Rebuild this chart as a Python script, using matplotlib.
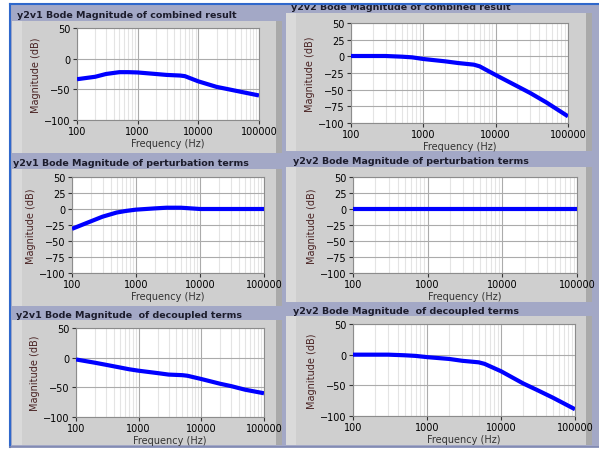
import numpy as np
import matplotlib.pyplot as plt
from matplotlib.patches import Rectangle
from matplotlib.ticker import FixedLocator, NullFormatter

W, H = 599, 452

# frequency grid (Hz) shared by all traces
freq = [100, 200, 300, 500, 700, 1000, 2000, 3000, 5000, 6000,
        10000, 20000, 30000, 50000, 100000]

# magnitudes (dB)
y2v1_combined = [-33.5, -29.5, -25, -22, -22, -22.5, -25, -26.5, -27.5, -28.5,
                 -37, -46, -49.5, -54, -60]
y2v2_combined = [0.5, 0.5, 0.5, -0.5, -1.5, -4, -7.5, -10, -12.5, -15,
                 -28, -45, -55, -69, -90]
y2v1_perturb = [-31, -19, -12, -5.5, -3, -1, 1, 2, 2, 1.5,
                0, 0, 0, 0, 0]
y2v2_perturb = [0, 0, 0, 0, 0, 0, 0, 0, 0, 0, 0, 0, 0, 0, 0]
y2v1_decoupled = [-3, -8.5, -12, -16.5, -19.5, -22, -26, -28.5, -29.5, -30.5,
                  -36, -44, -48, -54, -60]
y2v2_decoupled = [0, 0, 0, -1, -2, -4, -7, -10, -12.5, -15,
                  -27, -47, -57, -70, -89]

titles = [
    "y2v1 Bode Magnitude of combined result",
    "y2v2 Bode Magnitude of combined result",
    "y2v1 Bode Magnitude of perturbation terms",
    "y2v2 Bode Magnitude of perturbation terms",
    "y2v1 Bode Magnitude  of decoupled terms",
    "y2v2 Bode Magnitude  of decoupled terms",
]
series = [y2v1_combined, y2v2_combined, y2v1_perturb,
          y2v2_perturb, y2v1_decoupled, y2v2_decoupled]
yticks_list = [
    [50, 0, -50, -100],
    [50, 25, 0, -25, -50, -75, -100],
    [50, 25, 0, -25, -50, -75, -100],
    [50, 25, 0, -25, -50, -75, -100],
    [50, 0, -50, -100],
    [50, 0, -50, -100],
]
xticks = [100, 1000, 10000, 100000]

# pixel boxes (left, top, right, bottom)
plot_boxes = [(77, 29, 259, 121), (351, 24, 568, 124),
              (72, 178, 264, 274), (353, 178, 577, 274),
              (76, 329, 264, 418), (353, 325, 575, 417)]
panel_boxes = [(12, 22, 282, 154), (286, 14, 592, 152),
               (12, 170, 282, 307), (286, 168, 592, 303),
               (12, 321, 282, 446), (286, 317, 592, 446)]
title_pos = [(17, 15), (291, 7), (13, 163), (293, 162), (16, 315), (293, 311)]


def fig_rect(l, t, r, b):
    return [l / W, 1 - b / H, (r - l) / W, (b - t) / H]


def add_box(fig, l, t, r, b, color, z=-2):
    fig.add_artist(Rectangle((l / W, 1 - b / H), (r - l) / W, (b - t) / H,
                             transform=fig.transFigure, facecolor=color,
                             edgecolor='none', zorder=z))


fig = plt.figure(figsize=(W / 100, H / 100), dpi=100)
fig.patch.set_facecolor('white')

# bluish background behind the panels
add_box(fig, 10, 5, 599, 448, '#a3a8c6', z=-5)
for (l, t, r, b) in panel_boxes:
    add_box(fig, l, t, r, b, '#cfcfcf', z=-4)
    add_box(fig, l, t, l + 10, b, '#dadada', z=-3)
    add_box(fig, r - 6, t, r, b, '#a9a9a9', z=-3)

for i in range(6):
    ax = fig.add_axes(fig_rect(*plot_boxes[i]))
    ax.set_facecolor('white')
    ax.plot(freq, series[i], color='#0000ff', lw=3, solid_capstyle='butt', zorder=3)
    ax.set_xscale('log')
    ax.set_xlim(100, 100000)
    ax.set_ylim(-100, 50)
    ax.xaxis.set_major_locator(FixedLocator(xticks))
    ax.xaxis.set_minor_locator(FixedLocator(
        [m * d for d in [100, 1000, 10000] for m in range(2, 10)]))
    ax.xaxis.set_minor_formatter(NullFormatter())
    ax.set_xticklabels([str(v) for v in xticks])
    ax.set_yticks(yticks_list[i])
    ax.grid(True, which='major', color='#ababab', lw=0.8)
    ax.grid(True, which='minor', axis='x', color='#e4e4e4', lw=0.8)
    ax.tick_params(which='major', labelsize=7, length=3, width=0.8, color='#333333', pad=1.5)
    ax.tick_params(which='minor', length=0)
    for s in ax.spines.values():
        s.set_color('#8c8c8c')
        s.set_linewidth(0.8)
    ax.set_xlabel("Frequency (Hz)", fontsize=7, color='#333333', labelpad=1)
    ax.set_ylabel("Magnitude (dB)", fontsize=7, color='#4a2424', labelpad=2)

    tx, ty = title_pos[i]
    fig.text(tx / W, 1 - ty / H, titles[i], fontsize=6.8, fontweight='bold',
             color='#1c1c2c', va='center', ha='left', zorder=4)

# screenshot edge: top strip cut off, blue window frame
add_box(fig, 0, 0, 599, 4.5, 'white', z=6)
fig.add_artist(plt.Line2D([10 / W, 1], [1 - 5 / H, 1 - 5 / H],
                          transform=fig.transFigure, color='#2f68cc', lw=1.5, zorder=7))
fig.add_artist(plt.Line2D([10 / W, 10 / W], [1 - 5 / H, 1 - 448 / H],
                          transform=fig.transFigure, color='#2f68cc', lw=1.5, zorder=7))
fig.add_artist(plt.Line2D([10 / W, 1], [1 - 448 / H, 1 - 448 / H],
                          transform=fig.transFigure, color='#7d86b0', lw=1.2, zorder=7))

fig.savefig('out.png', dpi=100)
